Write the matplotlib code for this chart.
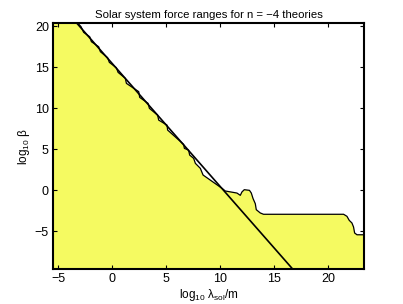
import matplotlib as mpl
mpl.use('Agg')

import matplotlib.pyplot as plt
import numpy as np

plt.rcParams['font.family'] = ['Liberation Sans', 'DejaVu Sans']
plt.rcParams['mathtext.fontset'] = 'custom'
plt.rcParams['mathtext.rm'] = 'Liberation Sans'
plt.rcParams['mathtext.it'] = 'Liberation Sans:italic'

# excluded-region boundary (log10 lambda, log10 beta)
bound_x = [-3.2, -2.90, -2.66, -2.10, -1.94, -1.27, -1.11, -0.44, -0.28, 0.37, 0.53,
           1.20, 1.30, 2.44, 2.53, 3.31, 3.43, 4.19, 4.29, 5.06, 5.12, 6.60, 6.67,
           7.06, 7.16, 7.53, 7.69, 8.15, 8.40, 10.16, 10.46, 11.54, 11.85, 12.0,
           12.22, 12.70, 12.87, 13.03, 13.24, 13.33, 13.70, 14.0, 21.42, 21.73,
           21.94, 22.19, 22.34, 22.44, 22.66, 23.3]
bound_y = [20.4, 19.96, 19.27, 18.74, 18.13, 17.52, 16.91, 16.18, 15.61, 14.96, 14.39,
           13.66, 13.05, 12.04, 11.34, 10.61, 10.0, 9.18, 8.57, 7.96, 7.35, 5.61, 5.12,
           4.91, 4.30, 3.90, 3.29, 2.68, 1.87, 0.24, -0.08, -0.33, -0.61, -0.2,
           0.08, 0.0, -0.33, -1.0, -1.63, -2.36, -2.76, -2.92, -2.92, -3.17,
           -3.66, -3.98, -4.47, -5.2, -5.42, -5.42]

# theory line
line_x = [-3.3, 16.7]
line_y = [20.4, -9.6]

xlim = (-5.5, 23.3)
ylim = (-9.6, 20.4)
yellow = (0.96, 0.98, 0.38)

fig = plt.figure(figsize=(4.03, 3.04), dpi=100)
ax = fig.add_axes([0.1315, 0.115, 0.7715, 0.809])

poly_x = [xlim[0]] + bound_x + [xlim[1], xlim[0]]
poly_y = [ylim[1]] + bound_y + [ylim[0], ylim[0]]
ax.fill(poly_x, poly_y, color=yellow, lw=0)
ax.plot(bound_x, bound_y, color='k', lw=0.9)
ax.plot(line_x, line_y, color='k', lw=1.2)

ax.set_xlim(*xlim)
ax.set_ylim(*ylim)
ax.set_xticks([-5, 0, 5, 10, 15, 20])
ax.set_yticks([-5, 0, 5, 10, 15, 20])
ax.set_xticklabels(['\u22125', '0', '5', '10', '15', '20'])
ax.set_yticklabels(['\u22125', '0', '5', '10', '15', '20'])
ax.tick_params(direction='in', top=True, right=True, length=3, width=0.8,
               labelsize=9, pad=3)
for s in ax.spines.values():
    s.set_linewidth(1.5)

ax.set_title('Solar system force ranges for n = \u22124 theories', fontsize=8.2, pad=4)
ax.set_xlabel('log$_{10}$ \u03bb$_{\\rm sol}$/m', fontsize=8.5, labelpad=1)
ax.set_ylabel('log$_{10}$ \u03b2', fontsize=8.5, labelpad=2)

fig.savefig('out.png', dpi=100)
